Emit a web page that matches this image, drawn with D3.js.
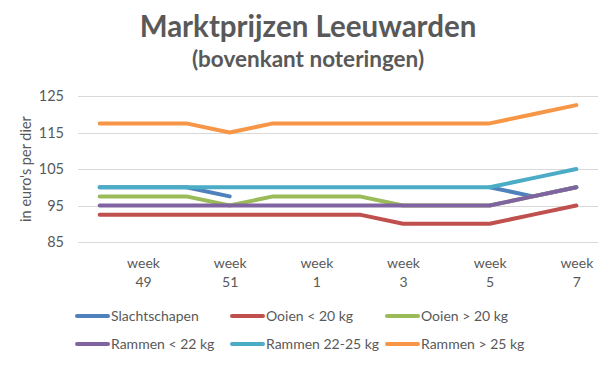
<!DOCTYPE html>
<html>
<head>
<meta charset="utf-8">
<script src="https://cdn.jsdelivr.net/npm/d3@7"></script>
<style>
  body { margin: 0; background: #fff; }
  svg text { font-family: Lato, 'Open Sans', sans-serif; fill: #595959; }
</style>
</head>
<body>
<div id="chart"></div>
<script>
// week categories (x axis)
const weeks = ['48', '49', '50', '51', '52', '1', '2', '3', '4', '5', '6', '7'];
// only every other week gets a label
const labelWeeks = ['49', '51', '1', '3', '5', '7'];
const yTicks = [85, 95, 105, 115, 125];

// prices per series (euro per dier)
const slachtschapen = [100, 100, 100, 97.5, null, null, null, null, null, 100, 97.5, 100];
const ooienLt20 = [92.5, 92.5, 92.5, 92.5, 92.5, 92.5, 92.5, 90, 90, 90, 92.5, 95];
const ooienGt20 = [97.5, 97.5, 97.5, 95, 97.5, 97.5, 97.5, 95, 95, 95, 97.5, 100];
const rammenLt22 = [95, 95, 95, 95, 95, 95, 95, 95, 95, 95, 97.5, 100];
const rammen2225 = [100, 100, 100, 100, 100, 100, 100, 100, 100, 100, 102.5, 105];
const rammenGt25 = [117.5, 117.5, 117.5, 115, 117.5, 117.5, 117.5, 117.5, 117.5, 117.5, 120, 122.5];

const seriesNames = ['Slachtschapen', 'Ooien < 20 kg', 'Ooien > 20 kg', 'Rammen < 22 kg', 'Rammen 22-25 kg', 'Rammen > 25 kg'];
const seriesValues = [slachtschapen, ooienLt20, ooienGt20, rammenLt22, rammen2225, rammenGt25];
const colors = ['#4F81BD', '#C0504D', '#9BBB59', '#8064A2', '#4BACC6', '#F79646'];

const width = 610;
const height = 365;

const svg = d3.select('#chart')
  .append('svg')
  .attr('width', width)
  .attr('height', height);

// Scales
const x = d3.scalePoint()
  .domain(weeks)
  .range([78, 598])
  .padding(0.5);

const y = d3.scaleLinear()
  .domain([85, 125])
  .range([242, 96]);

// Title
svg.append('text')
  .attr('x', 308)
  .attr('y', 37)
  .attr('text-anchor', 'middle')
  .style('font-size', '29.5px')
  .style('font-weight', 'bold')
  .text('Marktprijzen Leeuwarden');

svg.append('text')
  .attr('x', 308)
  .attr('y', 67)
  .attr('text-anchor', 'middle')
  .style('font-size', '22.5px')
  .style('font-weight', 'bold')
  .text('(bovenkant noteringen)');

// Gridlines
svg.append('g')
  .selectAll('line')
  .data(yTicks)
  .enter()
  .append('line')
  .attr('x1', 78)
  .attr('x2', 598)
  .attr('y1', (d) => Math.round(y(d)) + 0.5)
  .attr('y2', (d) => Math.round(y(d)) + 0.5)
  .attr('stroke', '#d9d9d9')
  .attr('stroke-width', 1);

// Y axis labels
const yAxis = svg.append('g')
  .attr('transform', 'translate(64,0)')
  .call(d3.axisLeft(y).tickValues(yTicks).tickSize(0).tickPadding(0));
yAxis.select('.domain').remove();
yAxis.selectAll('text')
  .style('font-size', '14.5px')
  .attr('fill', null);

svg.append('text')
  .attr('transform', 'translate(31,169) rotate(-90)')
  .attr('text-anchor', 'middle')
  .style('font-size', '14.5px')
  .text("in euro's per dier");

// X axis labels (two lines)
const xAxis = svg.append('g')
  .attr('transform', 'translate(0,242)')
  .call(d3.axisBottom(x).tickValues(labelWeeks).tickSize(0).tickFormat(() => ''));
xAxis.select('.domain').remove();
xAxis.selectAll('.tick text').remove();
xAxis.selectAll('.tick')
  .each(function (d) {
    const t = d3.select(this).append('text')
      .attr('text-anchor', 'middle')
      .style('font-size', '14px');
    t.append('tspan').attr('x', 0).attr('y', 26).text('week');
    t.append('tspan').attr('x', 0).attr('y', 45).text(d);
  });

// Lines
const line = d3.line()
  .defined((d) => d.v !== null)
  .x((d) => x(d.w))
  .y((d) => y(d.v));

seriesValues.forEach((vals, i) => {
  svg.append('path')
    .datum(weeks.map((w, j) => ({ w: w, v: vals[j] })))
    .attr('fill', 'none')
    .attr('stroke', colors[i])
    .attr('stroke-width', 4)
    .attr('stroke-linecap', 'round')
    .attr('stroke-linejoin', 'round')
    .attr('d', line);
});

// Legend
const legend = svg.append('g');
seriesNames.forEach((name, i) => {
  const lx = 75 + (i % 3) * 155;
  const ly = 316 + Math.floor(i / 3) * 28;
  legend.append('line')
    .attr('x1', lx + 2)
    .attr('x2', lx + 33)
    .attr('y1', ly)
    .attr('y2', ly)
    .attr('stroke', colors[i])
    .attr('stroke-width', 4)
    .attr('stroke-linecap', 'round');
  legend.append('text')
    .attr('x', lx + 36)
    .attr('y', ly)
    .attr('dy', '0.35em')
    .style('font-size', '14px')
    .text(name);
});
</script>
</body>
</html>
